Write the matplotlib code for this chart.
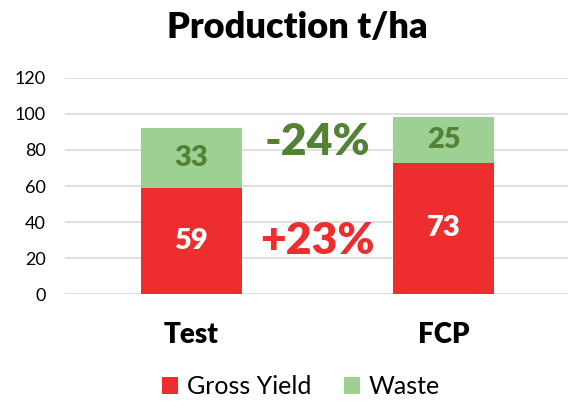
import matplotlib.pyplot as plt
import numpy as np

categories = ["Test", "FCP"]
gross_yield = [59, 73]
waste = [33, 25]
changes = ["+23%", "-24%"]

RED = "#EE2E2E"
GREEN = "#9CD193"
DARK_GREEN = "#548235"

plt.rcParams["font.family"] = ["Lato", "DejaVu Sans"]

fig = plt.figure(figsize=(5.68, 4.03), dpi=100)
ax = fig.add_axes([0.1153, 0.2697, 0.8874, 0.5375])

x = np.arange(len(categories))
b1 = ax.bar(x, gross_yield, width=0.4, color=RED, label="Gross Yield", zorder=3)
b2 = ax.bar(x, waste, width=0.4, bottom=gross_yield, color=GREEN, label="Waste", zorder=3)

ax.bar_label(b1, label_type="center", color="white", fontsize=21, fontweight="heavy")
ax.bar_label(b2, label_type="center", color=DARK_GREEN, fontsize=21, fontweight="heavy")

ax.set_xlim(-0.5, 1.5)
ax.set_ylim(0, 120)
ax.set_yticks(range(0, 121, 20))
ax.yaxis.grid(True, color="#D9D9D9", linewidth=1.2, zorder=0)
ax.tick_params(axis="y", length=0, labelsize=13, pad=14)
ax.tick_params(axis="x", length=0, labelsize=20, pad=20)
ax.set_xticks(x)
ax.set_xticklabels(categories, fontweight="heavy")
for s in ax.spines.values():
    s.set_visible(False)

# percentage change between the two systems
ax.text(0.5, 29.5, changes[0], color=RED, fontsize=32, fontweight="heavy",
        ha="center", va="center")
ax.text(0.5, 84.5, changes[1], color=DARK_GREEN, fontsize=32, fontweight="heavy",
        ha="center", va="center")

fig.text(0.523, 0.933, "Production t/ha", fontsize=26, fontweight="heavy",
         ha="center", va="center")

fig.legend(handles=[b1, b2], loc="center", bbox_to_anchor=(0.53, 0.04),
           ncol=2, frameon=False, fontsize=18, handlelength=0.64,
           handleheight=0.64, handletextpad=0.35, columnspacing=1.3,
           borderpad=0.2)

fig.savefig("out.png", dpi=100)
